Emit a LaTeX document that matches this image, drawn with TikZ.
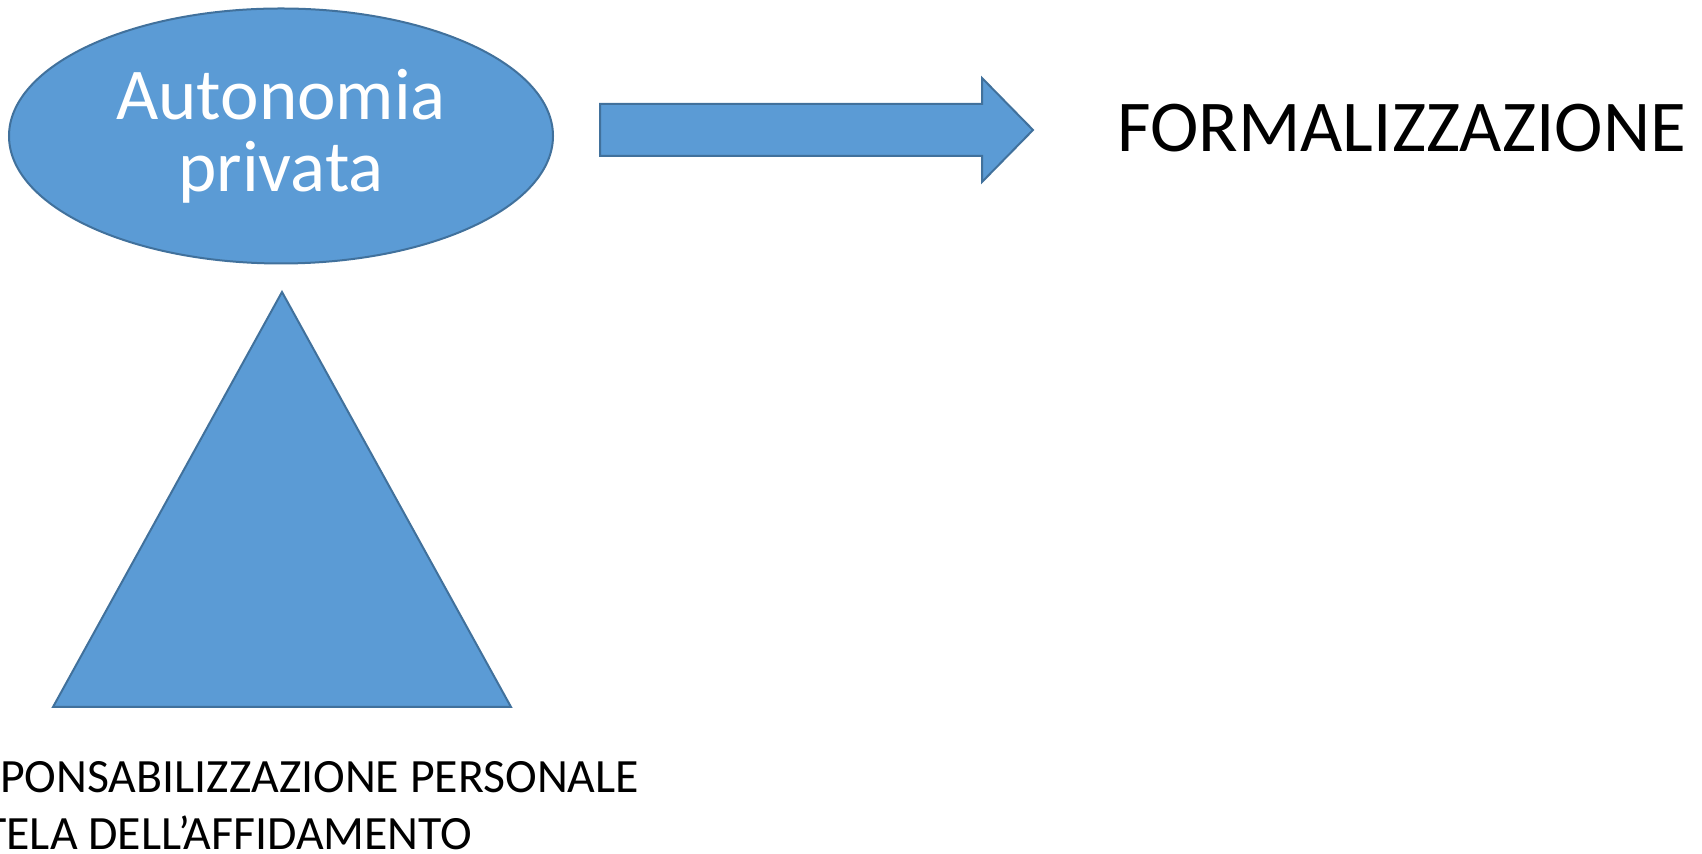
\documentclass[tikz,border=0pt]{standalone}
\usepackage{fontspec}
\setmainfont{Carlito}
\usepackage{tikz}
\usetikzlibrary{positioning,shapes.geometric}
\definecolor{shapefill}{HTML}{5B9BD5}
\definecolor{shapeline}{HTML}{41719C}

\begin{document}
\begin{tikzpicture}[x=0.5pt,y=-0.5pt,
    blueshape/.style={fill=shapefill, draw=shapeline, line width=1pt}]
    \useasboundingbox (0,0) rectangle (1702,854);
    % ellipse with the main notion
    \node[blueshape, ellipse, minimum width=272pt, minimum height=127.5pt,
      inner sep=0pt, align=center, text=white,
      font=\fontsize{36.5pt}{36pt}\selectfont] (autonomia) at (281,136)
      {Autonomia\\privata};
    % block arrow
    \draw[blueshape] (600,104) -- (982,104) -- (982,78) -- (1033,130)
      -- (982,182) -- (982,156) -- (600,156) -- cycle;
    \node[anchor=base west, inner sep=0pt,
      font=\fontsize{36.5pt}{36pt}\selectfont] (formal) at (1117,152)
      {FORMALIZZAZIONE};
    % triangle below
    \draw[blueshape] (282,292) -- (511,707) -- (53,707) -- cycle;
    \node[anchor=base west, inner sep=0pt, align=left,
      font=\fontsize{23.9pt}{28.3pt}\selectfont] (basi) at (-71,849)
      {RESPONSABILIZZAZIONE PERSONALE\\TUTELA DELL’AFFIDAMENTO};
\end{tikzpicture}
\end{document}
